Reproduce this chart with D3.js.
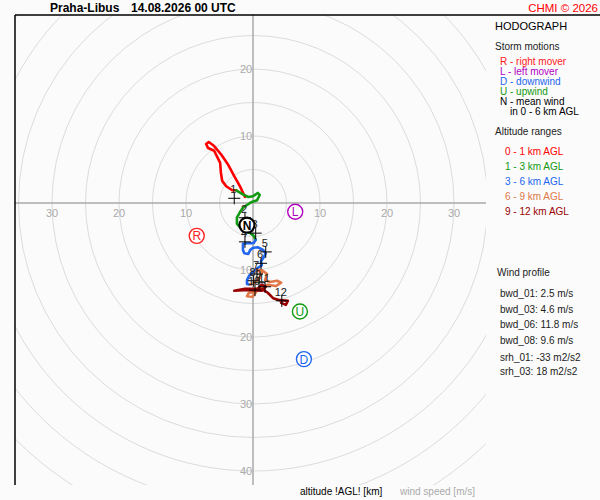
<!DOCTYPE html>
<html>
<head>
<meta charset="utf-8">
<script src="https://cdn.jsdelivr.net/npm/d3@7"></script>
<style>
  body { margin: 0; background: #fbfbfb; }
  svg { display: block; font-family: "Liberation Sans", Arial, sans-serif; }
</style>
</head>
<body>
<div class="board"></div>
<script>
// hodograph segments, wind components [u, v] in m/s
var seg01 = [[-1.2,0.9],[-1.9,2.4],[-2.8,4.0],[-3.7,5.7],[-4.8,7.3],[-5.8,8.5],[-6.6,9.1],[-7.0,8.8],
  [-6.7,8.2],[-5.8,7.8],[-5.4,7.0],[-4.9,6.0],[-4.8,4.6],[-4.6,3.3],[-4.0,2.5],[-3.1,1.9],[-2.5,1.9]];
var seg13 = [[-2.5,1.9],[-1.5,1.3],[-0.7,0.9],[0.0,1.0],[0.7,1.5],[1.0,1.2],[0.6,0.4],[-0.3,0.1],
  [-0.9,-0.3],[-1.5,-0.7],[-1.9,-1.3],[-2.4,-2.2],[-2.4,-3.1],[-1.9,-3.7],[-1.2,-4.2],[-0.4,-4.5],
  [0.1,-4.9],[0.4,-5.5]];
var seg36 = [[0.4,-5.5],[0.1,-6.0],[-0.9,-6.0],[-1.5,-6.1],[-1.5,-7.0],[-1.3,-7.5],[-0.7,-7.6],
  [-0.4,-7.0],[0.0,-6.7],[0.7,-6.6],[1.5,-7.0],[1.9,-7.5],[1.6,-8.1],[1.2,-8.7],[1.3,-9.3],
  [0.7,-9.7],[0.0,-10.3],[-0.6,-10.9],[-0.9,-11.5],[-0.9,-12.1],[-0.4,-12.2]];
var seg69 = [[-0.4,-12.2],[0.3,-11.8],[1.0,-11.2],[1.3,-10.4],[0.6,-10.0],[1.3,-10.0],[2.1,-10.6],
  [1.8,-11.5],[2.5,-11.8],[3.6,-11.6],[4.2,-11.9],[3.4,-12.4],[2.2,-12.2],[1.3,-12.7],[0.3,-13.3],
  [-0.6,-13.4],[-0.9,-13.9],[-0.1,-14.0],[0.4,-13.4],[0.7,-12.8]];
var seg912 = [[0.7,-12.8],[1.3,-12.2],[1.9,-12.5],[1.3,-13.1],[0.0,-13.0],[-1.5,-13.0],[-2.8,-13.1],
  [-1.2,-12.8],[0.7,-12.8],[1.6,-13.0],[2.2,-13.4],[3.0,-14.2],[4.0,-14.5],[5.2,-14.6],[4.9,-15.2],
  [4.2,-14.9]];

var segColors = ["#ff0000", "#119911", "#2266ee", "#e07848", "#990000"];
var rangeLabels = ["0 - 1 km AGL", "1 - 3 km AGL", "3 - 6 km AGL", "6 - 9 km AGL", "9 - 12 km AGL"];

// km markers
var kmLevels = [1,2,3,4,5,6,7,8,9,10,11,12];
var kmU = [-2.8,-1.2,0.4,-1.2,1.9,1.2,0.6,0.1,0.9,0.3,1.8,4.3];
var kmV = [0.7,-2.2,-4.5,-5.8,-7.3,-9.0,-10.6,-11.6,-11.9,-13.0,-12.5,-14.6];

// storm motions
var stormNames = ["R", "L", "U", "D", "N"];
var stormU = [-8.4, 6.3, 7.0, 7.6, -0.9];
var stormV = [-4.9, -1.3, -16.2, -23.3, -3.3];
var stormColors = ["#ff2020", "#b000c0", "#119911", "#2266ee", "#000000"];

var ringSpeeds = [5,10,15,20,25,30,35,40,45,50,55,60];
var ticksH = [-30,-20,-10,10,20,30];
var ticksV = [20,10,-10,-20,-30,-40];

var profileLines = ["bwd_01: 2.5 m/s", "bwd_03: 4.6 m/s", "bwd_06: 11.8 m/s", "bwd_08: 9.6 m/s"];
var srhLines = ["srh_01: -33 m2/s2", "srh_03: 18 m2/s2"];

var width = 600, height = 500;
var svg = d3.select(".board").append("svg")
  .attr("width", width)
  .attr("height", height);

var x = d3.scaleLinear().domain([0, 10]).range([253, 320]);
var y = d3.scaleLinear().domain([0, 10]).range([203, 136]);
var r = d3.scaleLinear().domain([0, 10]).range([0, 67]);

svg.append("rect").attr("width", width).attr("height", height).attr("fill", "#fbfbfb");

svg.append("clipPath").attr("id", "plotClip")
  .append("rect").attr("x", 15).attr("y", 15).attr("width", 471).attr("height", 470);

var plot = svg.append("g").attr("clip-path", "url(#plotClip)");

plot.selectAll("circle.ring")
  .data(ringSpeeds)
  .enter()
  .append("circle")
  .attr("class", "ring")
  .attr("cx", x(0)).attr("cy", y(0))
  .attr("r", function(d) { return r(d); })
  .attr("fill", "none")
  .attr("stroke", "#dcdcdc")
  .attr("stroke-width", 1);

// axes cross
plot.append("line").attr("x1", 15).attr("x2", 486).attr("y1", y(0)).attr("y2", y(0))
  .attr("stroke", "#aaa").attr("stroke-width", 1.5);
plot.append("line").attr("x1", x(0)).attr("x2", x(0)).attr("y1", 15).attr("y2", 485)
  .attr("stroke", "#aaa").attr("stroke-width", 1.5);

plot.selectAll("text.th")
  .data(ticksH)
  .enter()
  .append("text")
  .attr("class", "th")
  .attr("x", function(d) { return x(d); })
  .attr("y", y(0) + 14)
  .attr("text-anchor", "middle")
  .attr("font-size", 11)
  .attr("fill", "#aaa")
  .text(function(d) { return Math.abs(d); });

plot.selectAll("text.tv")
  .data(ticksV)
  .enter()
  .append("text")
  .attr("class", "tv")
  .attr("x", x(0) - 7)
  .attr("y", function(d) { return y(d) + 4; })
  .attr("text-anchor", "middle")
  .attr("font-size", 11)
  .attr("fill", "#aaa")
  .text(function(d) { return Math.abs(d); });

// hodograph
var line = d3.line()
  .x(function(d) { return x(d[0]); })
  .y(function(d) { return y(d[1]); });

plot.selectAll("path.seg")
  .data([seg01, seg13, seg36, seg69, seg912])
  .enter()
  .append("path")
  .attr("class", "seg")
  .attr("d", line)
  .attr("fill", "none")
  .attr("stroke", function(d, i) { return segColors[i]; })
  .attr("stroke-width", 2.6)
  .attr("stroke-linejoin", "round")
  .attr("stroke-linecap", "round");

// km crosses and labels
var marks = plot.selectAll("g.km")
  .data(kmLevels)
  .enter()
  .append("g")
  .attr("class", "km")
  .attr("transform", function(d, i) { return "translate(" + x(kmU[i]) + "," + y(kmV[i]) + ")"; });

marks.append("path")
  .attr("d", "M-6,0H6M0,-6V6")
  .attr("stroke", "#000")
  .attr("stroke-width", 1);

marks.append("text")
  .attr("x", -1)
  .attr("y", -5)
  .attr("text-anchor", "middle")
  .attr("font-size", 11)
  .attr("fill", "#222")
  .text(function(d) { return d; });

// storm motion markers
var storms = plot.selectAll("g.storm")
  .data(stormNames)
  .enter()
  .append("g")
  .attr("class", "storm")
  .attr("transform", function(d, i) { return "translate(" + x(stormU[i]) + "," + y(stormV[i]) + ")"; });

storms.append("circle")
  .attr("r", 7.5)
  .attr("fill", "#fff")
  .attr("stroke", function(d, i) { return stormColors[i]; })
  .attr("stroke-width", function(d) { return d == "N" ? 2.2 : 1.4; });

storms.append("text")
  .attr("y", 4.5)
  .attr("text-anchor", "middle")
  .attr("font-size", 12)
  .attr("font-weight", function(d) { return d == "N" ? "bold" : "normal"; })
  .attr("fill", function(d, i) { return stormColors[i]; })
  .text(function(d) { return d; });

// frame
svg.append("line").attr("x1", 15).attr("x2", 600).attr("y1", 15).attr("y2", 15)
  .attr("stroke", "#000").attr("stroke-width", 1.5);
svg.append("line").attr("x1", 15).attr("x2", 15).attr("y1", 15).attr("y2", 485)
  .attr("stroke", "#000").attr("stroke-width", 1.5);

// header
svg.append("text").attr("x", 50).attr("y", 12).attr("font-size", 12).attr("font-weight", "bold")
  .text("Praha-Libus");
svg.append("text").attr("x", 131).attr("y", 12).attr("font-size", 12).attr("font-weight", "bold")
  .text("14.08.2026 00 UTC");
svg.append("text").attr("x", 598).attr("y", 12).attr("font-size", 11.5).attr("text-anchor", "end")
  .attr("fill", "#ff0000").text("CHMI © 2026");

// legend
function txt(xp, yp, s, color, size) {
  svg.append("text").attr("x", xp).attr("y", yp)
    .attr("font-size", size || 10)
    .attr("fill", color || "#000")
    .text(s);
}

txt(495, 30, "HODOGRAPH", "#000", 11);
txt(495, 50, "Storm motions", "#222");
txt(500, 64.5, "R - right mover", stormColors[0]);
txt(500, 74.5, "L - left mover", stormColors[1]);
txt(500, 84.5, "D - downwind", stormColors[3]);
txt(500, 94.5, "U - upwind", stormColors[2]);
txt(500, 104.5, "N - mean wind", "#000");
txt(510, 114.5, "in 0 - 6 km AGL", "#000");
txt(495, 135, "Altitude ranges", "#222");

svg.selectAll("text.range")
  .data(rangeLabels)
  .enter()
  .append("text")
  .attr("class", "range")
  .attr("x", 505)
  .attr("y", function(d, i) { return 155 + i * 15; })
  .attr("font-size", 10)
  .attr("fill", function(d, i) { return segColors[i]; })
  .text(function(d) { return d; });

txt(497, 276, "Wind profile", "#222");
profileLines.forEach(function(s, i) { txt(500, 297 + i * 15.5, s, "#222"); });
srhLines.forEach(function(s, i) { txt(500, 361 + i * 14, s, "#222"); });

// bottom labels
txt(300, 495, "altitude !AGL! [km]", "#000");
txt(400, 495, "wind speed [m/s]", "#aaa");
</script>
</body>
</html>
